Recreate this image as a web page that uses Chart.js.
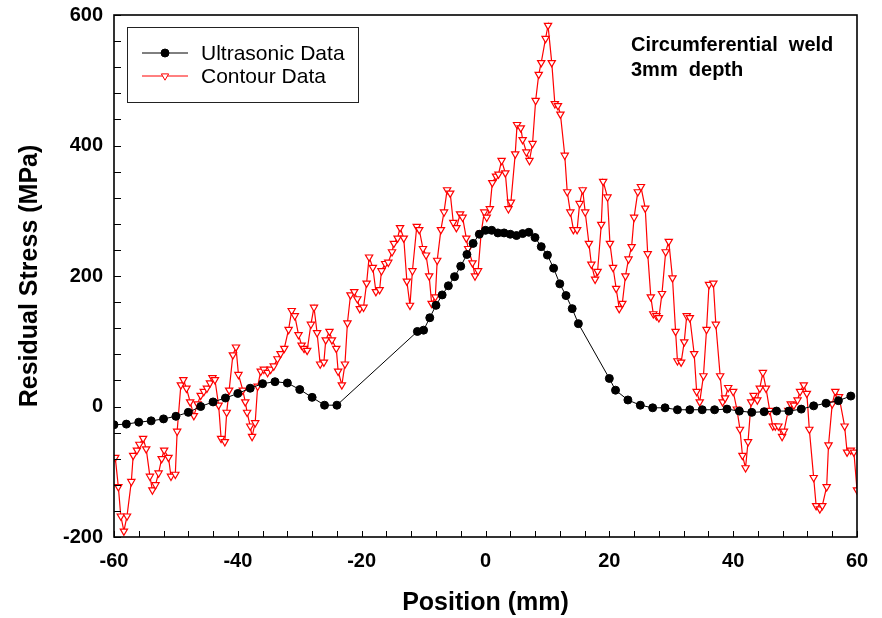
<!DOCTYPE html>
<html lang="en">
<head>
  <meta charset="UTF-8">
  <title>Residual Stress - Circumferential weld</title>
  <script src="https://cdn.jsdelivr.net/npm/chart.js"></script>
  <style>
    body { margin: 0; background: #fff; }
  </style>
</head>
<body>
  <canvas id="stressChart" width="882" height="618"></canvas>

  <script>
    // Ultrasonic measurements (position in mm, stress in MPa)
    const ultrasonicX = [-60, -58, -56, -54, -52, -50, -48, -46, -44, -42, -40, -38, -36, -34, -32, -30, -28, -26, -24,
      -11, -10, -9, -8, -7, -6, -5, -4, -3, -2, -1, 0, 1, 2, 3, 4, 5, 6, 7, 8, 9, 10, 11, 12, 13, 14, 15,
      20, 21, 23, 25, 27, 29, 31, 33, 35, 37, 39, 41, 43, 45, 47, 49, 51, 53, 55, 57, 59];
    const ultrasonicY = [-28, -27, -24, -22, -19, -15, -9, 0, 7, 13, 20, 28, 35, 38, 36, 26, 14, 2, 2,
      115, 117, 136, 155, 171, 185, 199, 215, 233, 250, 264, 270, 270, 266, 266, 264, 262, 265, 267, 259, 245, 232, 212, 188, 170, 150, 127,
      43, 25, 10, 2, -2, -2, -5, -5, -5, -5, -4, -7, -9, -8, -7, -7, -4, 1, 5, 9, 16];

    // Contour method measurements
    const contourX = [-59.8, -59.3, -58.9, -58.4, -57.9, -57.2, -56.9, -56.3, -55.9, -55.3, -54.8, -54.2, -53.8, -53.3, -52.8,
      -52.3, -51.9, -51.2, -50.8, -50.1, -49.8, -49.2, -48.8, -48.3, -47.7, -47.1, -46.5, -46.0, -45.5, -45.0, -44.5, -44.1,
      -43.7, -43.1, -42.7, -42.1, -41.8, -41.4, -40.8, -40.3, -39.9, -39.2, -38.8, -38.5, -38.0, -37.7, -37.2, -36.8, -36.3,
      -35.8, -35.2, -34.7, -34.2, -33.6, -33.1, -32.5, -31.8, -31.3, -30.8, -30.2, -29.7, -29.3, -28.8, -28.2, -27.7, -27.2,
      -26.7, -26.1, -25.8, -25.2, -24.8, -24.1, -23.8, -23.2, -22.7, -22.3, -21.8, -21.2, -20.7, -20.3, -19.7, -19.2, -18.8,
      -18.2, -17.7, -17.1, -16.8, -16.2, -15.7, -15.1, -14.8, -14.2, -13.8, -13.2, -12.7, -12.2, -11.8, -11.1, -10.7, -10.1,
      -9.6, -9.1, -8.7, -8.1, -7.8, -7.2, -6.7, -6.2, -5.7, -5.2, -4.7, -4.1, -3.7, -3.1, -2.8, -2.1, -1.7, -1.2, -0.7, -0.2,
      0.2, 0.7, 1.1, 1.7, 2.1, 2.6, 3.2, 3.7, 4.1, 4.8, 5.1, 5.7, 6.0, 6.6, 7.1, 7.6, 8.1, 8.6, 9.0, 9.7, 10.1, 10.7, 11.2,
      11.7, 12.1, 12.8, 13.2, 13.7, 14.2, 14.8, 15.2, 15.7, 16.1, 16.7, 17.1, 17.7, 18.1, 18.7, 19.0, 19.7, 20.1, 20.6, 21.1,
      21.6, 22.1, 22.6, 23.1, 23.6, 24.0, 24.6, 25.1, 25.8, 26.2, 26.7, 27.1, 27.6, 28.0, 28.5, 29.1, 29.6, 30.2, 30.7, 31.0,
      31.6, 32.1, 32.5, 33.0, 33.7, 34.1, 34.6, 35.2, 35.7, 36.1, 36.8, 37.2, 37.9, 38.3, 38.7, 39.2, 40.0, 40.6, 41.1, 41.5,
      42.0, 42.4, 42.9, 43.3, 43.9, 44.3, 44.8, 45.3, 45.9, 46.4, 46.8, 47.3, 47.9, 48.2, 48.9, 49.3, 49.8, 50.4, 50.8, 51.4,
      51.9, 52.3, 53.0, 53.4, 54.0, 54.4, 55.1, 55.4, 56.0, 56.5, 57.1, 58.0, 58.4, 59.0, 59.5, 60.0];
    const contourY = [-78, -123, -168, -191, -168, -115, -75, -67, -58, -49, -65, -107, -128, -120, -102,
      -80, -67, -78, -107, -104, -38, 33, 41, 28, 7, -14, 4, 17, 23, 28, 36, 44,
      41, 2, -49, -54, -9, 25, 79, 91, 49, 25, 7, -9, -30, -46, -25, 31, 54,
      57, 52, 57, 62, 73, 81, 89, 118, 147, 139, 110, 94, 89, 86, 126, 152, 113,
      65, 68, 102, 115, 102, 89, 54, 33, 65, 128, 171, 176, 165, 150, 152, 189, 229,
      213, 176, 179, 208, 219, 221, 237, 250, 258, 274, 258, 192, 155, 208, 276, 271, 242,
      232, 200, 158, 168, 224, 271, 298, 332, 327, 282, 274, 295, 290, 258, 242, 220, 200, 208, 266, 298,
      290, 303, 343, 353, 356, 377, 358, 303, 313, 387, 432, 427, 409, 390, 377, 403, 469, 509, 527, 564, 584, 527, 464,
      461, 448, 385, 329, 298, 271, 271, 311, 332, 298, 250, 218, 195, 207, 279, 345, 321, 250, 213, 181,
      150, 158, 200, 226, 245, 290, 329, 337, 304, 234, 168, 142, 139, 136, 173, 237, 253, 197, 115, 70,
      68, 99, 139, 136, 81, 23, 7, 47, 118, 187, 189, 126, 47, 7, 13, 29, 23, -4, -35, -75,
      -94, -54, 7, 17, 10, 28, 52, 28, -6, -30, -30, -30, -46, -38, -6, 4, 2, 10, 23, 33,
      20, -35, -109, -152, -157, -152, -123, -59, 4, 23, 15, -30, -70, -67, -70, -128];

    const xTickStep = 4, xLabelEvery = 20;
    const yTickStep = 40, yLabelEvery = 200;
    const seriesNames = ['Ultrasonic Data', 'Contour Data'];
    const noteLines = ['Circumferential  weld', '3mm  depth'];

    const toPoints = (xs, ys) => xs.map((x, i) => ({ x: x, y: ys[i] }));

    const fontFam = "'Liberation Sans', Arial, sans-serif";

    // frame round the plot + inward tick marks
    const frameTicks = {
      id: 'frameTicks',
      afterDatasetsDraw(chart) {
        const { ctx, chartArea: a, scales } = chart;
        ctx.save();
        ctx.strokeStyle = '#000';
        ctx.lineWidth = 1;
        scales.x.ticks.forEach(t => {
          const px = Math.round(scales.x.getPixelForValue(t.value)) + 0.5;
          ctx.beginPath();
          ctx.moveTo(px, a.bottom);
          ctx.lineTo(px, a.bottom - 6);
          ctx.stroke();
        });
        scales.y.ticks.forEach(t => {
          const py = Math.round(scales.y.getPixelForValue(t.value)) + 0.5;
          ctx.beginPath();
          ctx.moveTo(a.left, py);
          ctx.lineTo(a.left + 7, py);
          ctx.stroke();
        });
        ctx.lineWidth = 1.6;
        ctx.strokeRect(a.left, a.top, a.right - a.left, a.bottom - a.top);
        ctx.restore();
      }
    };

    // legend box and the note in the top right corner
    const boxLegend = {
      id: 'boxLegend',
      afterDraw(chart) {
        const ctx = chart.ctx;
        ctx.save();
        ctx.fillStyle = '#fff';
        ctx.fillRect(127, 27, 231, 75);
        ctx.strokeStyle = '#222';
        ctx.lineWidth = 1;
        ctx.strokeRect(127.5, 27.5, 231, 75);

        const rows = [53, 76];
        chart.data.datasets.forEach((ds, i) => {
          const y = rows[i];
          ctx.strokeStyle = ds.borderColor;
          ctx.lineWidth = 1;
          ctx.beginPath();
          ctx.moveTo(142, y);
          ctx.lineTo(188, y);
          ctx.stroke();
          ctx.fillStyle = ds.pointBackgroundColor;
          ctx.strokeStyle = ds.pointBorderColor;
          Chart.helpers.drawPoint(ctx, {
            pointStyle: ds.pointStyle, rotation: ds.rotation || 0,
            radius: ds.pointRadius, borderWidth: 1
          }, 165, y);
          ctx.fillStyle = '#000';
          ctx.font = '21px ' + fontFam;
          ctx.textBaseline = 'middle';
          ctx.textAlign = 'left';
          ctx.fillText(seriesNames[i], 201, y + 1);
        });

        ctx.font = 'bold 20px ' + fontFam;
        ctx.fillStyle = '#000';
        ctx.textBaseline = 'middle';
        ctx.fillText(noteLines[0], 631, 45);
        ctx.fillText(noteLines[1], 631, 70);
        ctx.restore();
      }
    };

    new Chart(document.getElementById('stressChart'), {
      type: 'line',
      data: {
        datasets: [{
          label: seriesNames[0],
          data: toPoints(ultrasonicX, ultrasonicY),
          borderColor: '#000',
          borderWidth: 1,
          pointStyle: 'circle',
          pointRadius: 4,
          pointBackgroundColor: '#000',
          pointBorderColor: '#000',
          pointBorderWidth: 1,
          tension: 0
        }, {
          label: seriesNames[1],
          data: toPoints(contourX, contourY),
          borderColor: '#ff0000',
          borderWidth: 1.2,
          pointStyle: 'triangle',
          rotation: 180,
          pointRadius: 4.2,
          pointBackgroundColor: '#fff',
          pointBorderColor: '#ff0000',
          pointBorderWidth: 1.2,
          tension: 0
        }]
      },
      options: {
        responsive: false,
        animation: false,
        layout: { padding: { top: 10, right: 25, left: 0, bottom: 0 } },
        plugins: {
          legend: { display: false },
          tooltip: { enabled: false }
        },
        scales: {
          x: {
            type: 'linear',
            min: -60, max: 60,
            grid: { display: false },
            border: { display: false },
            afterFit: s => { s.height = 81; },
            ticks: {
              stepSize: xTickStep,
              autoSkip: false,
              maxRotation: 0,
              padding: 4,
              color: '#000',
              font: { family: fontFam, size: 20, weight: 'bold' },
              callback: v => (v % xLabelEvery === 0 ? v : '')
            },
            title: {
              display: true,
              text: 'Position (mm)',
              color: '#000',
              padding: { top: 0, bottom: 0 },
              font: { family: fontFam, size: 25, weight: 'bold' }
            }
          },
          y: {
            min: -200, max: 600,
            grid: { display: false },
            border: { display: false },
            afterFit: s => { s.width = 114; },
            ticks: {
              stepSize: yTickStep,
              autoSkip: false,
              padding: 3,
              color: '#000',
              font: { family: fontFam, size: 20, weight: 'bold' },
              callback: v => (v % yLabelEvery === 0 ? v : '')
            },
            title: {
              display: true,
              text: 'Residual Stress (MPa)',
              color: '#000',
              padding: { top: 15, bottom: 0 },
              font: { family: fontFam, size: 25, weight: 'bold' }
            }
          }
        }
      },
      plugins: [frameTicks, boxLegend]
    });
  </script>
</body>
</html>
